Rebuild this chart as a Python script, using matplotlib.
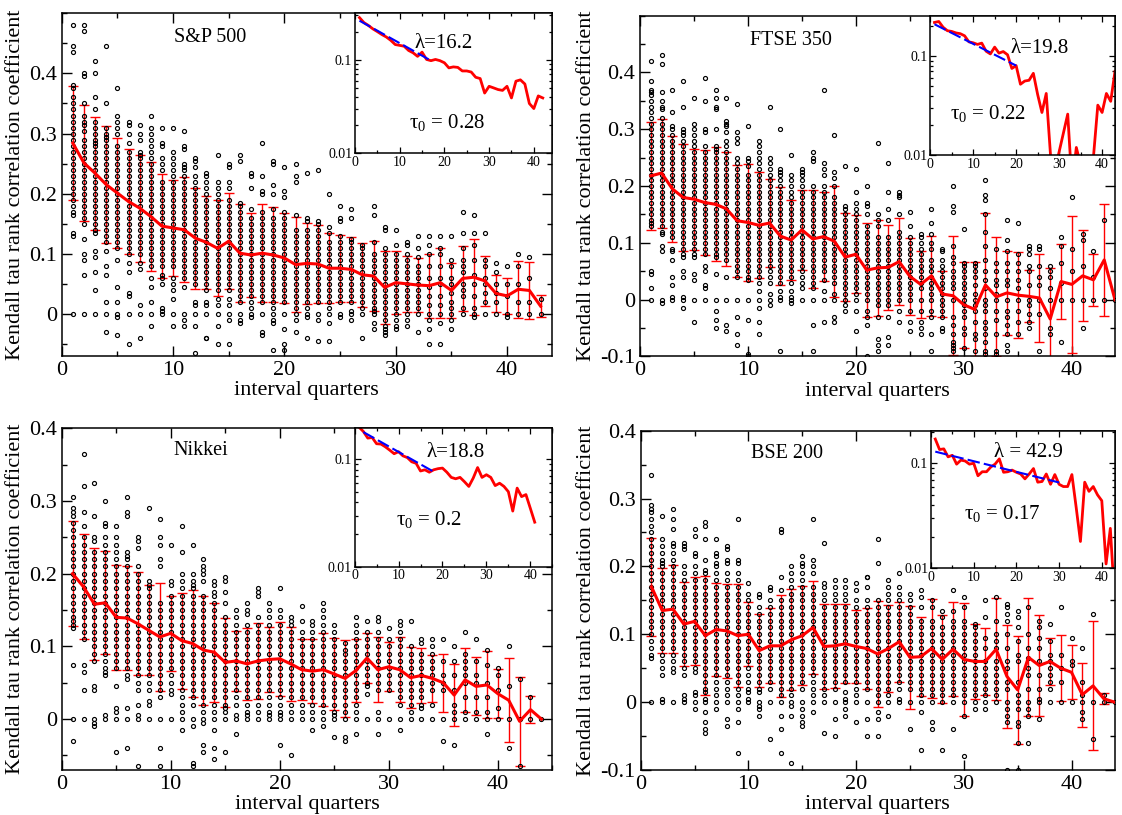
import numpy as np
import matplotlib
matplotlib.use("Agg")
import matplotlib.pyplot as plt
from matplotlib.ticker import (MultipleLocator, FixedLocator, FixedFormatter,
                               FuncFormatter, NullFormatter, LogLocator)

plt.rcParams["font.family"] = ["Liberation Serif", "DejaVu Serif"]
plt.rcParams["mathtext.fontset"] = "custom"
plt.rcParams["mathtext.rm"] = "Liberation Serif"
plt.rcParams["mathtext.it"] = "Liberation Serif:italic"

nan = np.nan

# ---------------- S&P 500 ----------------
sp_mean = [0.284, 0.251, 0.234, 0.215, 0.201, 0.187, 0.176, 0.162, 0.146, 0.143,
           0.140, 0.126, 0.119, 0.109, 0.121, 0.101, 0.098, 0.101, 0.098, 0.093,
           0.082, 0.084, 0.083, 0.076, 0.076, 0.074, 0.065, 0.063, 0.044, 0.052,
           0.050, 0.048, 0.047, 0.052, 0.039, 0.059, 0.061, 0.055, 0.034, 0.030,
           0.041, 0.039, 0.013]
sp_err = [0.095, 0.097, 0.094, 0.097, 0.092, 0.088, 0.089, 0.090, 0.087, 0.080,
          0.087, 0.084, 0.077, 0.080, 0.080, 0.081, 0.070, 0.081, 0.079, 0.075,
          0.079, 0.067, 0.065, 0.058, 0.056, 0.054, 0.053, 0.058, 0.060, 0.052,
          0.047, 0.045, 0.053, 0.058, 0.045, 0.054, 0.063, 0.042, 0.030, 0.030,
          0.047, 0.048, 0.018]
# individual values per quarter, in hundredths
sp_points = [
    "48 44.5 43.5 38 37.5 36 35 34 33 32 31 30 29 28 27 26 25 24 23 22 21 20 19 18 17 16.5 13.5 13 0",
    "48 47 40 39.5 35 33 32 31.5 30.5 29 28 27 26 25 24 23 22 21 20 19 18 17 16 15 12.5 10 9 6.5 0",
    "42 40 36 34 32 31 30 29 28.5 28 27 26 25 24 23 22 21 20 19 18 17 16 15 14 13.5 10.5 9.5 7 4 0",
    "44.5 35 31 30 29.5 29 28 27 26 25 24 23 22 21 20 19 18 17 16 15 14 13 12 10.5 8 6.5 2 0 -3",
    "37.5 33 32 31 30 28 27 26 25 24 23 22 21 20 19 18 17 16 15 14 13 12 11 9 4.5 2 0 -0.5 -3.5",
    "32 31.5 30 28.5 27 26 25 24 23 22 21 20 19 18 17 16 15 14 13 12 11 10 8.5 7 3.5 3 0 -5",
    "31.5 30 29 27 26.5 26 25 24 23 22 21 20 19 18 17 16 15 14 13 12 11 10 8.5 7.5 1.5 0 -4",
    "33 31 30 29 28 27 26 25 24 23 22 21 20 19 18 17 16 15 14 13 12 11 10 9 8 6 4.5 2 0 -2",
    "31 28.5 28 26 25 24 22 21 20 19 18 17 16 15 14 13 12 11 10 9 8 6.5 6 5 1 0.5 0",
    "31 27 26 25 24 23 22 21 20 19 18 17 16 15 14 13 12 11 10 9 8 6 5 4 2.5 0 -2",
    "30.5 28 27.5 25 24.5 24 23 22 21 20 19 18 17 16 15 14 13 12 11 10 9 8 7 6 4.5 0 -1 -2",
    "26 25.5 24.5 23 22 21 20 19 18 17 16 15 14 13 12 11 10 9 8 7 6 5 2 1.5 0 -2 -6.5",
    "23.5 23 22 21 20 19 18 17 16 15 14 13 12 11 10 9 8 7 6 5 4 2 1.5 0 -4 -4",
    "26.5 22 21 20 19 18 17 16 15 14 13 12 11 10 9 8 7 6 5 4 2.5 1.5 0 -2 -5",
    "25 24.5 22 21 19 18 17 16 15 14 13 12 11 10 9 8 7 6 5 4 2.5 1.5 0 -1 -5",
    "26.5 25.5 18.5 18 17 16 15 14 13 12 11 10 9 8 7 6 5 4 3 2 0 -1 -1.5",
    "23.5 23 21 17.5 16 15 14 13 12 11 10 9 8 7 6 5 4 3 2 1 0 -0.5",
    "28.5 23 20.5 20 17 16 15 14 13 12 11 10 9 8 7 6 5 4 3 2 0 -3 -3.5",
    "25.5 25 21.5 20 17.5 16 15 14 13 12 11 10 9 8 7 6 5 4 3 2 1 0 -1 -1.5 -6",
    "24.5 20.5 19.5 17 16 15 14 13 12 11 10 9 8 7 6 5 4 3 2 0 -2.5 -5 -6",
    "25 23 22 16.5 14 13 12 11 10 9 8 7 6 5 4 3 2 1 0 -1 -3",
    "23.5 16 15.5 14 13 12 11 10 9 8 7 6 5 4 3 2 1 0 -0.5 -4",
    "24 15.5 15 14 13 12 11 10 9 8 7 6 5 4 3 2 0 -1 -4.5",
    "20 14.5 13.5 12 11 10 9 8 7 6 5 4 3 2 1 0 -1.5 -4.5",
    "18 16 15.5 13 12 11 10 9 8 7 6 5 4 3 2 0 -0.5",
    "17.5 16 12.5 12 11 10 9 8 7 6 5 4 3 2 0.5 0 -1",
    "11.5 11 10 9 8 7 6 5 4 3 2 1 0 -4",
    "18 16.5 12 10 9 8 7 6 5 4 3 2 1 0.5 0 -1.5 -2.5",
    "14.5 14 11 10 9 8 7 6 5 4 3 2 1 0 -1 -2 -2.5 -3 -3.5",
    "14 11.5 10 9 8 7 6 5 4 3 2 1 0 -1 -2 -2.5",
    "12 11.5 10 9 8 7 6 5 4 3 2 1 0 -1 -2",
    "13 11 9.5 8 7 6 5 4 3 2 1 0 -3",
    "13 11.5 10 8 6 4.5 3 1.5 0 -1 -2.5 -5",
    "13 11 10 8 6 5 3 1.5 0 -1.5 -5",
    "13 9 8 6 5 3.5 2 1 0 -1 -2.5",
    "17 13.5 11 9 8 7 5 4 3 1 0",
    "16.5 13.5 11.5 9 6.5 5 3 1 0 -0.5",
    "13.5 9 8 6 5 3.5 2 0",
    "8.5 7 5 3.5 2 0",
    "8 5 3 0 -0.5",
    "10 8 5 2 0",
    "9.5 6 2 0",
    "2.5 0",
]

# ---------------- FTSE 350 ----------------
ftse_mean = [0.218, 0.223, 0.195, 0.180, 0.177, 0.171, 0.168, 0.160, 0.139, 0.136,
             0.131, 0.135, 0.112, 0.105, 0.123, 0.107, 0.111, 0.103, 0.075, 0.080,
             0.052, 0.056, 0.057, 0.067, 0.041, 0.027, 0.042, 0.010, 0.007, -0.009,
             -0.017, 0.026, 0.005, 0.012, 0.008, 0.006, 0.003, -0.034, 0.032, 0.027,
             0.042, 0.035, 0.070, 0.0]
ftse_err = [0.095, 0.096, 0.094, 0.094, 0.089, 0.092, 0.100, 0.100, 0.099, 0.103,
            0.093, 0.077, 0.087, 0.071, 0.070, 0.086, 0.078, 0.098, 0.077, 0.069,
            0.083, 0.084, 0.075, 0.076, 0.068, 0.059, 0.070, 0.040, 0.105, 0.076,
            0.084, 0.127, 0.105, 0.074, 0.076, 0.046, 0.077, 0.090, 0.066, 0.120,
            0.080, 0.046, 0.099, nan]
ftse_points = [
    "42 38.5 37 36.5 36 35 34 33 32 31 30 29 28 27 26 25 24 23 22 21 20 19 18 17 16 15 14 13.5 13 5 4.5 2 0",
    "43 41.5 36.5 35 34 33.5 32 31 30 29 28 27 26 25 24 23 22 21 20 19 18 17 16 15 14 13 12 11.5 9.5 8.5 0 -0.5",
    "37 33 30.5 30 29 28 27 26 25 24 23 22 21 20 19 18 17 16 15 14 13 12 11 9 8.5 7 4 2.5 0.5 0",
    "38.5 34 30 29.5 29 28 27 26 25 24 23 22 21 20 19 18 17 16 15 14 13 12 11 10 9 8 7.5 5 4 0.5 0 -1.5",
    "35.5 31 30 29 28 27 26 25 24 23 22 21 20 19 18 17 16 15 14 13 12 11 10 9 8 7.5 4.5 3.5 0 -4",
    "39 35 30 29.5 27 26 25 24 23 22 21 20 19 18 17 16 15 14 13 12 11 10 9 8 6 5 2.5 2 0",
    "37 35.5 34 33.5 30 27 26.5 26 25 24 23 22 21 20 19 18 17 16 15 14 13 12 11 10 9 8 7.5 4.5 0 -2 -3.5 -5",
    "35.5 31.5 31 30.5 29.5 28 27 26 25 24 23 22 21 20 19 18 17 16 15 14 13 12 11 10 9 8 7 4 0 -4.5 -5.5",
    "34.5 29.5 28.5 27.5 25 24 23 22 21 20 19 18 17 16 15 14 13 12 11 10 9 8 7 6 5 4 0 -3 -6 -8",
    "30.5 25 24.5 23.5 22 21 20 19 18 17 16 15 14 13 12 11 10 9 8 7 6 5 4 3.5 0 -3.5 -9.5 -10",
    "28 27 26 25 24 23 22 21 20 19 18 17 16 15 14 13 12 11 10 9 8 7 6 5 4 3 1.5 0 -1.5 -4 -6",
    "34 25 24 23 22 21 20 19 18 17 16 15 14 13 12 11 10 9 8 7 6 5 4 3 1 0 -1",
    "30 23 22.5 22 21 20 19 18 17 16 15 14 13 12 11 10 9 8 7 6 5 4 3 1.5 0.5 0 -9",
    "25.5 22 21 20 19 18 17 16 15 14 13 12 11 10 9 8 7 6 5 4 3 1.5 0.5 0 -0.5",
    "23 22.5 22 21 20 19 18 17 16 15 14 13 12 11 10 9 8 7 6 5 4 3 2 0",
    "26 25 24.5 20 19 18 17 16 15 14 13 12 11 10 9 8 7 6 5 4 3 2 0 -4.5 -9",
    "37 24 23 22 20 19 18 17 16 15 14 13 12 11 10 9 8 7 6 5 3.5 1.5 0 -4",
    "29 22.5 21.5 20 18 17 16 15 14 13 12 11 10 9 8 7 6 5 4 3 1 0 -3 -4",
    "23.5 16.5 16 15 14 13 12 11 10 9 8 7 6 5 4 3 2 1 0 -1 -2",
    "23 19 17 16 15 14 13 12 11 10 9 8 7 6 5 4 3 2 1 0 -2 -5.5",
    "20 17 16.5 15 13 12 11 10 9 8 7 6 5 4 3 2 1 0 -2 -3 -4.5 -10",
    "27.5 15 14 13 11 10 9 8 7 6 5 4 3 2 1 0 -1 -3 -7 -8 -9",
    "24 19 16 14 11 10 9 8 7 6 5 4 3 2 1 0 -1 -3 -6.5 -8",
    "19 18.5 18 15 12 11 10 9 8 7 6 5 4 3 2 1 0 -2 -4",
    "15.5 13 11 10 9 8 7 6 5 4 3 2 1 0 -2 -4 -5.5",
    "11.5 11 10 9 8 7 6 5 4 3 2 0 -2 -4 -5 -6",
    "16 13.5 11.5 10 9 7 6 5 4 3 2 1 0 -2 -3 -6 -9",
    "9 8.5 7 6 5 4 3 2 1 0 -1 -2 -3 -5 -5.5",
    "20 16.5 15.5 9.5 7.5 6.5 5 4 3 2 0 -3 -4.5 -6 -7.5 -8 -8.5 -9",
    "12.5 6.5 6 5 4 3 2 1 0 -1 -2 -3 -5 -6 -8.5",
    "6.5 6 5 4 2.5 1 0 -1 -2 -4 -6 -7 -9",
    "21 18.5 17.5 15 12 9.5 7 5 3.5 2 0 -1 -2 -4 -5 -6 -7.5 -9 -9.5",
    "9 6.5 5 3.5 2.5 1 0 -2 -3.5 -6 -9 -9.5",
    "14 10.5 8.5 6.5 5 3.5 2.5 0 -2 -3 -4.5 -6 -8 -9",
    "13.5 8 6.5 5 3.5 2 0 -2 -4 -6",
    "9.5 9 8 6 5 2.5 0 -1 -2.5 -4 -5",
    "9.5 9 6 4 2.5 0 -2.5 -9",
    "6 5 4 2 0 -5 -6",
    "11 9.5 6.5 3 0 -7.5",
    "18 9 5 0",
    "11.5 10.5 6 0 -5",
    "8.5 4 0",
    "14 0",
    "0",
]

# ---------------- Nikkei ----------------
nk_mean = [0.200, 0.182, 0.158, 0.160, 0.140, 0.139, 0.131, 0.122, 0.113, 0.118,
           0.108, 0.104, 0.095, 0.092, 0.078, 0.080, 0.076, 0.080, 0.082, 0.083,
           0.076, 0.068, 0.066, 0.068, 0.062, 0.056, 0.067, 0.084, 0.068, 0.072,
           0.068, 0.057, 0.060, 0.056, 0.050, 0.033, 0.054, 0.045, 0.047, 0.035,
           0.026, -0.003, 0.013, 0.0]
nk_err = [0.072, 0.072, 0.077, 0.071, 0.072, 0.072, 0.071, 0.062, 0.074, 0.052,
          0.066, 0.074, 0.075, 0.068, 0.061, 0.041, 0.050, 0.052, 0.045, 0.051,
          0.051, 0.042, 0.044, 0.050, 0.050, 0.053, 0.043, 0.035, 0.045, 0.034,
          0.045, 0.042, 0.038, 0.032, 0.040, 0.043, 0.044, 0.040, 0.046, 0.034,
          0.058, 0.061, 0.019, nan]
nk_points = [
    "30.5 29 28.5 28 27 26 25 24 23 22 21 20 19 18 17 16 15 14 13.5 13 12.5 7.5 0 -3",
    "36.5 32 28.5 26.5 25 24 23 22 21 20 19 18 17 16 15 14 13 12 11 7.5 6.5 4 0",
    "32.5 28 25 24.5 23 22 21 20 19 18 17 16 15 14 13 12 11 10 9 8 4.5 4 0 -0.5 -1",
    "30 27 26.5 25 24 23 22 21 20 19 18 17 16 15 14 13 12 11 10 9 8 7 6.5 6 0.5 0",
    "26.5 25 24 23 22 21 20 19 18 17 16 15 14 13 12 11 10 9 8 7 4.5 1.5 1 0 -4.5",
    "30.5 28.5 28 23 22.5 22 21 20 19 18 17 16 15 14 13 12 11 10 9 8 7 6 5.5 1.5 0 -4",
    "25 24.5 23.5 21 20 19 18 17 16 15 14 13 12 11 10 9 8 7 6 5 4 2 0.5 0 -6.5",
    "29 19 18.5 18 17 16 15 14 13 12 11 10 9 8 7 6 5 4 2.5 2 0",
    "27.5 25 24 22 21 16 15 14 13 12 11 10 9 8 7 6 5 4 3 0 -4 -6.5",
    "24 19 18.5 17 16 15 14 13 12 11 10 9 8 7 6 5 4 3.5 0",
    "26.5 23 20 19 18 17 16 15 14 13 12 11 10 9 8 7 6 5 4 3 2 1 0 -1.5",
    "24 20 19 18.5 18 17 16 15 14 13 12 11 10 9 8 7 6 5 4 3 2 0 -1 -6 -6.5",
    "22 21 20.5 20 19 17 16 15 14 13 12 11 10 9 8 7 6 5 4 3 2 1 0 -0.5 -3.5 -4.5",
    "19 18.5 17.5 17 16 15 14 13 12 11 10 9 8 7 6 5 4 3 2 1 0 -1.5 -4 -5.5",
    "19.5 19 17.5 16 14 13 12 11 10 9 8 7 6 5 4 3 2 1.5 1 0 -4.5",
    "15 14 13 12 11 10 9 8 7 6 5 4 3 2 0.5 0 -2",
    "16 15 14.5 13 12 11 10 9 8 7 6 5 4 3 2 1 0.5 0",
    "18 17.5 17 14 13 12 11 10 9 8 7 6 5 4 3 2 1 0",
    "16 15 14 13 12 11 10 9 8 7 6 5 4 3 2 1 0.5 0",
    "18 15 14 13 12 11 10 9 8 7 6 5 4 3 2 1 0.5 0 -3.5",
    "14 13.5 13 12 11 10 9 8 7 6 5 4 3 2 1 0 -5",
    "15.5 13.5 12 11 10 9 8 7 6 5 4 3 2 1 0",
    "13.5 13 12 11 10 9 8 7 6 5 4 3 2 1 0 -1.5",
    "16 15 14 13 12 11 10 9 8 7 6 5 4 3 2 1 0 -1",
    "13 12 11 10 9 8 7 6 5 4 3 2 1 0.5 0 -2.5",
    "10.5 9.5 9 8 7 6 5 4 3 2 1 0 -2.5 -3",
    "14 13 12 11 10 9 8 7 6 5 4 3 2 1 0 -2",
    "13.5 12 11 10 9 8 7 6 5 4.5 3.5 0",
    "14 13.5 12 11 10 9 8 7 6 5 4 1 0 -2",
    "12.5 11 10 9 8 7 6 5 4 0",
    "13.5 13 12 11 10 9 8 7 6 5 4 3 2 0 -1.5",
    "13.5 10 9 8 7 6 5 4 3 2 1 0",
    "11 10.5 9 8 7 6 5 4 3 2 1.5 0",
    "11 10 9 8 7 6 5 4 2 0",
    "11 8 6 5 4 0 -3",
    "10 8 6 4 2 1 0 -3.5",
    "12 9 8 7 6 5 3 1 0",
    "11 8 6 5 3 1 0",
    "9.5 7.5 5 3 1 0 -2",
    "7 6 4 1.5 0",
    "10 4.5 0 -4",
    "5.5 0 -6.5",
    "3 0",
    "0",
]

# ---------------- BSE 200 ----------------
bse_mean = [0.170, 0.135, 0.137, 0.115, 0.119, 0.098, 0.107, 0.105, 0.098, 0.100,
            0.076, 0.083, 0.083, 0.092, 0.098, 0.110, 0.082, 0.083, 0.086, 0.082,
            0.079, 0.071, 0.079, 0.089, 0.066, 0.067, 0.079, 0.063, 0.078, 0.063,
            0.060, 0.060, 0.078, 0.038, 0.018, 0.066, 0.054, 0.060, 0.050, 0.044,
            0.011, 0.024, 0.005, 0.0]
bse_err = [0.072, 0.063, 0.065, 0.062, 0.065, 0.088, 0.069, 0.069, 0.076, 0.047,
           0.054, 0.055, 0.075, 0.074, 0.073, 0.068, 0.062, 0.062, 0.058, 0.054,
           0.060, 0.078, 0.064, 0.059, 0.076, 0.058, 0.073, 0.065, 0.069, 0.083,
           0.055, 0.049, 0.075, 0.076, 0.080, 0.087, 0.074, 0.035, 0.049, 0.040,
           0.047, 0.095, 0.008, nan]
bse_points = [
    "33.5 29 28.5 28 27 26 25 24 23 22 21 20 19 18 17 16 15 14 13 12 11 10 9 8 7 6.5 0",
    "27.5 24 23 22 21 20.5 20 19 18 17 16 15 14 13 12 11 10 9 8 7 6 5 4 0.5 0",
    "28.5 27 25.5 23.5 23 22 21 20 19 18 17 16 15 14 13 12 11 10 9 8 7 6 5 4.5 0",
    "23.5 23 22.5 20 19 18 17 16 15 14 13 12 11 10 9 8 7 6 5 4 1 0.5 0",
    "25.5 24.5 22 21.5 20 19 18 17 16 15 14 13 12 11 10 9 8 7 6 5 4.5 1.5 1 0 -1",
    "26.5 26 24 21 19.5 19 18 17 16 15 14 13 12 11 10 9 8 7 6 5 4 3 2 1.5 0.5 0 -1.5 -3 -4 -4.5",
    "24 22 21.5 20.5 20 19 18 17 16 15 14 13 12 11 10 9 8 7 6 5 4 3 2 1 0 -1",
    "23 22.5 21 20.5 19 18 17 16 15 14 13 12 11 10 9 8 7 6 5 4 3 2 1 0 -2.5 -3.5",
    "27 21 20.5 19 18 17 16 15 14 13 12 11 10 9 8 7 6 5 4 3 2 1 0 -1 -3 -7.5",
    "17.5 16 15 14 13 12 11 10 9 8 7 6 5 4 3 2 1.5 0.5 0",
    "16 15.5 14 13 12 11 10 9 8 7 6 5 4 3 2 1.5 0 -0.5 -1 -2",
    "17 16.5 15 14 13 12 11 10 9 8 7 6 5 4 3 2 0 -5.5",
    "25.5 25 18.5 16.5 15 14 13 12 11 10 9 8 7 6 5 4 3 2 1 0 -2 -4 -7.5",
    "20 19 18 17 16 15 14 13 12 11 10 9 8 7 6 5 4 3 2 1 0 -0.5 -2 -9",
    "21.5 20.5 20 19 18 17 16 15 14 13 12 11 10 9 8 7 6 5 4 3 2 0 -1 -2 -3 -3.5",
    "27 21 20 19 17 16 15 14 13 12 11 10 9 8 7 6 5 4 3 2 1 0 -1.5",
    "23.5 17.5 17 16 15 14 13 12 11 10 9 8 7 6 5 4 3 2 1 0 -4.5",
    "18 17 16 15 14 13 12 11 10 9 8 7 6 5 4 3 2 0 -2.5 -5",
    "18 17 16 15 14 13 12 11 10 9 8 7 6 5 4 3 1.5 0.5 0 -1 -2",
    "17.5 16.5 15 14 13 12 11 10 9 8 7 6 5 4 3 2 1 0 -3",
    "18.5 18.5 17 15 14 13 12 11 10 9 8 7 6 5 4 3 2 0 -2.5 -5",
    "24 20.5 15 14 13 12 11 10 9 8 7 6 5 4 3 2 1 0 -1.5 -2.5 -5",
    "18 17 16 15 14 13 12 11 10 9 8 7 6 5 4 3 2 1 0 -2",
    "19 17 16 15 14 13 12 11 10 9 8 7 6 5 4 3 2 0.5 0",
    "16 15 14 13 12 11 10 9 8 7 6 5 4 3 2 0 -4",
    "16.5 15.5 14 12 11 10 9 8 7 6 5 4 3 2 1 0 -1.5 -7",
    "15 14 12 11 10 9 8 7 6 5 4 3 2 1 0 -3 -4",
    "13.5 12.5 11 10 9 8 7 6 5 4 3 2 1 0 -7",
    "16.5 13.5 12 11 10 9 8 7 6 5 4 3 2 1 0 -4",
    "15.5 14 12 11 10 9 8 7 6 5 4 3 2 1 0 -2 -8",
    "11.5 11 10 9 8 7 6 5 4 3 2 1 0 -1",
    "15 12.5 9.5 8 6 5 4 3 2 1 0 -1",
    "15.5 12 10 9 8 6 5 4 3 2 1 0",
    "14.5 14 13 12 10 8 6 5 3 2 0 -1 -2 -3 -10",
    "13.5 12.5 11 9 7 6 3 1 0 -1 -3 -3.5 -6 -10",
    "14 10 8 6.5 5 4 2 0 -1 -2 -6",
    "12 11 9.5 8 6 4 2 0.5 0 -2.5",
    "11.5 9 7 6 5 4 3 2 0",
    "14 7 5 3 0",
    "9.5 6 5.5 0",
    "8 3 1 0 -1.5 -2.5",
    "13 0 -5.5",
    "1 0",
    "0",
]

titles = ["S&P 500", "FTSE 350", "Nikkei", "BSE 200"]
lambdas = ["\u03bb=16.2", "\u03bb=19.8", "\u03bb=18.8", "\u03bb = 42.9"]
tau0_labels = ["0.28", "0.22", "0.2", "0.17"]
# exponential fit shown in the insets: amplitude, decay length, fitted range
fit_amp = [0.28, 0.22, 0.20, 0.132]
fit_lam = [16.2, 19.8, 18.8, 42.9]
fit_range = [(1, 17), (1, 20), (2, 18), (1, 30)]
inset_n = [42, 44, 41, 44]

# layout (figure fractions) and axis ranges
W, H = 1122, 815
main_px = [(61.7, 551.7, 13.3, 356.0), (640.0, 1115.0, 15.7, 356.5),
           (61.7, 552.3, 428.3, 770.0), (640.7, 1114.6, 430.7, 770.0)]
inset_px = [(355.0, 551.7, 13.3, 153.0), (930.2, 1115.0, 15.7, 155.3),
            (354.6, 552.3, 428.3, 566.7), (931.0, 1114.6, 430.7, 568.3)]
xmax = [44, 44, 45, 44]
ylims = [(-0.07, 0.5), (-0.1, 0.5), (-0.07, 0.4), (-0.1, 0.4)]
yticks = [[0, 0.1, 0.2, 0.3, 0.4], [-0.1, 0, 0.1, 0.2, 0.3, 0.4],
          [0, 0.1, 0.2, 0.3, 0.4], [-0.1, 0, 0.1, 0.2, 0.3, 0.4]]
inset_xmax = [44, 43, 45, 43]
inset_top = [0.316, 0.255, 0.195, 0.204]
title_pos = [(0.302, 0.929), (0.318, 0.926), (0.283, 0.934), (0.308, 0.933)]
lam_pos = [(0.451, 0.749), (0.594, 0.731), (0.512, 0.790), (0.532, 0.807)]
tau_pos = [(0.466, 0.177), (0.310, 0.260), (0.376, 0.301), (0.390, 0.356)]

means = [sp_mean, ftse_mean, nk_mean, bse_mean]
errs = [sp_err, ftse_err, nk_err, bse_err]
points = [sp_points, ftse_points, nk_points, bse_points]


def px_rect(l, r, t, b):
    return [l / W, 1 - b / H, (r - l) / W, (b - t) / H]


def fmt_tick(v, pos):
    v = round(v, 2) + 0.0
    return f"{v:g}"


fig = plt.figure(figsize=(W / 100, H / 100), dpi=100)

for i in range(4):
    ax = fig.add_axes(px_rect(*main_px[i]))
    m = np.array(means[i])
    e = np.array(errs[i])
    x = np.arange(1, len(m) + 1)

    xs, ys = [], []
    for q, col in enumerate(points[i], start=1):
        for v in col.split():
            xs.append(q)
            ys.append(float(v) / 100)
    ax.plot(xs, ys, "o", ls="none", mfc="none", mec="black", ms=2.9, mew=0.85,
            zorder=3)

    ok = ~np.isnan(e)
    ax.errorbar(x[ok], m[ok], yerr=e[ok], fmt="none", ecolor="red",
                elinewidth=1.0, capsize=3.5, capthick=1.0, zorder=2)
    ax.plot(x, m, color="red", lw=2.2, zorder=4)

    ax.set_xlim(0, xmax[i])
    ax.set_ylim(*ylims[i])
    ax.xaxis.set_major_locator(MultipleLocator(10))
    ax.xaxis.set_minor_locator(MultipleLocator(5))
    ax.yaxis.set_major_locator(FixedLocator(yticks[i]))
    ax.yaxis.set_minor_locator(MultipleLocator(0.05))
    ax.yaxis.set_major_formatter(FuncFormatter(fmt_tick))
    ax.tick_params(which="both", direction="in", top=True, right=True, width=1.0)
    ax.tick_params(which="major", length=7, labelsize=16)
    ax.tick_params(which="minor", length=3.5)
    for s in ax.spines.values():
        s.set_linewidth(1.1)
    ax.set_xlabel("interval quarters", fontsize=16, labelpad=1)
    ax.set_ylabel("Kendall tau rank correlation coefficient", fontsize=16,
                  labelpad=3)
    ax.text(*title_pos[i], titles[i], transform=ax.transAxes, ha="center",
            va="center", fontsize=14.5)

    # inset: mean on log scale with exponential fit
    ins = fig.add_axes(px_rect(*inset_px[i]))
    mi = m[:inset_n[i]]
    xi = x[:inset_n[i]]
    pos_ok = mi > 0
    ins.plot(xi[pos_ok], mi[pos_ok], color="red", lw=2.0)
    a, b = fit_range[i]
    xf = np.linspace(a, b, 40)
    ins.plot(xf, fit_amp[i] * np.exp(-xf / fit_lam[i]), color="blue", lw=1.5,
             ls=(0, (6, 2)))
    ins.set_yscale("log")
    ins.set_xlim(0, inset_xmax[i])
    ins.set_ylim(0.01, inset_top[i])
    ins.xaxis.set_major_locator(MultipleLocator(10))
    ins.xaxis.set_minor_locator(MultipleLocator(5))
    ins.yaxis.set_major_locator(FixedLocator([0.01, 0.1]))
    ins.yaxis.set_major_formatter(FixedFormatter(["0.01", "0.1"]))
    ins.yaxis.set_minor_locator(LogLocator(base=10, subs=np.arange(2, 10)))
    ins.yaxis.set_minor_formatter(NullFormatter())
    ins.tick_params(which="both", direction="in", top=True, right=True,
                    width=0.9, labelsize=10, pad=2)
    ins.tick_params(which="major", length=4)
    ins.tick_params(which="minor", length=2)
    for s in ins.spines.values():
        s.set_linewidth(1.1)
    ins.text(*lam_pos[i], lambdas[i], transform=ins.transAxes, ha="center",
             va="baseline", fontsize=15)
    ins.text(*tau_pos[i], "$\\mathregular{\u03c4_0}$ = " + tau0_labels[i],
             transform=ins.transAxes, ha="center", va="baseline", fontsize=15)

fig.savefig("out.png", dpi=100)
